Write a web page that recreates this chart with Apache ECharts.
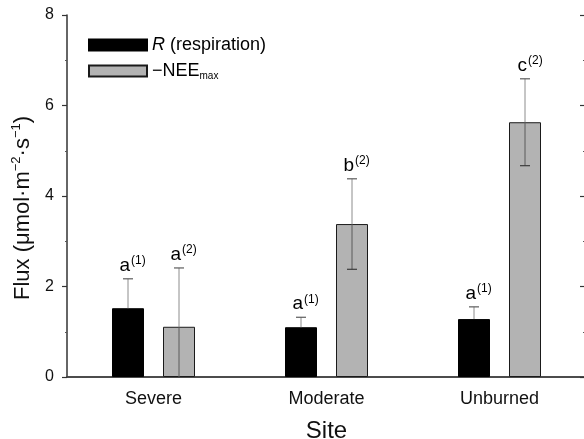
<!DOCTYPE html>
<html>
<head>
<meta charset="utf-8">
<script src="https://cdn.jsdelivr.net/npm/echarts@6/dist/echarts.min.js"></script>
<style>
  html, body { margin: 0; padding: 0; background: #fff; }
  #chart { width: 584px; height: 439px; }
</style>
</head>
<body>
<div id="chart"></div>
<script>
// Site categories
const sites = ['Severe', 'Moderate', 'Unburned'];

// Ecosystem respiration R and its standard error (µmol·m⁻²·s⁻¹)
const respiration = [1.52, 1.10, 1.28];
const respirationErr = [0.65, 0.22, 0.27];

// Maximum net ecosystem exchange (sign reversed) and its standard error
const neeMax = [1.11, 3.38, 5.63];
const neeMaxErr = [1.30, 1.00, 0.96];

// Significance letters and their comparison group
const respirationLetters = ['a', 'a', 'a'];
const neeMaxLetters = ['a', 'b', 'c'];
const respirationGroup = '(1)';
const neeMaxGroup = '(2)';

// Value axis range
const yMin = 0, yMax = 8, yStep = 2;

const FONT = '"Liberation Sans", Arial, Helvetica, sans-serif';
const BAR_W = 32;
const BAR_GAP = 19;

function errorBarSeries(name, means, errs, letters, group, side, drawLower) {
  const rows = means.map((m, i) => [i, m, errs[i]]);
  return {
    type: 'custom',
    name: name + ' error',
    z: 5,
    silent: true,
    data: rows,
    renderItem: function (params, api) {
      const idx = api.value(0);
      const mean = api.value(1);
      const err = api.value(2);
      const dx = side * (BAR_W + BAR_GAP) / 2;
      const top = api.coord([idx, mean + err]);
      const mid = api.coord([idx, mean]);
      const lowVal = Math.max(mean - err, yMin);
      const low = api.coord([idx, lowVal]);
      const x = top[0] + dx;
      const capHalf = 5;
      const children = [];
      children.push({
        type: 'line',
        shape: { x1: x, y1: top[1], x2: x, y2: mid[1] },
        style: { stroke: '#8c8c8c', lineWidth: 1 }
      });
      children.push({
        type: 'line',
        shape: { x1: x - capHalf, y1: top[1], x2: x + capHalf, y2: top[1] },
        style: { stroke: '#5c5c5c', lineWidth: 1.2 }
      });
      if (drawLower) {
        children.push({
          type: 'line',
          shape: { x1: x, y1: mid[1], x2: x, y2: low[1] },
          style: { stroke: '#5a5a5a', lineWidth: 1 }
        });
        if (mean - err > yMin) {
          children.push({
            type: 'line',
            shape: { x1: x - capHalf, y1: low[1], x2: x + capHalf, y2: low[1] },
            style: { stroke: '#3c3c3c', lineWidth: 1.2 }
          });
        }
      }
      // significance letter with superscript group
      const lx = x + 2;
      const baseY = top[1] - 4;
      children.push({
        type: 'text',
        style: {
          text: letters[idx],
          x: lx, y: baseY,
          align: 'right', verticalAlign: 'bottom',
          font: '19px ' + FONT, fill: '#000'
        }
      });
      children.push({
        type: 'text',
        style: {
          text: group,
          x: lx + 1, y: baseY - 8,
          align: 'left', verticalAlign: 'bottom',
          font: '12px ' + FONT, fill: '#000'
        }
      });
      return { type: 'group', children: children };
    }
  };
}

const chart = echarts.init(document.getElementById('chart'), null, { renderer: 'canvas' });

chart.setOption({
  animation: false,
  backgroundColor: '#fff',
  textStyle: { fontFamily: FONT },
  grid: { left: 67, right: -2, top: 15, bottom: 62, containLabel: false, outerBoundsMode: 'none' },
  legend: {
    left: 88,
    top: 36,
    padding: 0,
    orient: 'vertical',
    itemWidth: 58,
    itemHeight: 11,
    itemGap: 8,
    icon: 'rect',
    selectedMode: false,
    data: ['R', 'NEE'],
    formatter: function (name) {
      return name === 'R' ? '{it|R}{t| (respiration)}' : '{t|\u2212NEE}{sub|max}';
    },
    textStyle: {
      fontFamily: FONT,
      color: '#000',
      rich: {
        it: { fontSize: 18, fontStyle: 'italic', fontFamily: FONT, lineHeight: 20 },
        t: { fontSize: 18, fontFamily: FONT, lineHeight: 20 },
        sub: { fontSize: 10, fontFamily: FONT, lineHeight: 8, verticalAlign: 'bottom' }
      }
    }
  },
  xAxis: [
    {
      type: 'category',
      data: sites,
      position: 'bottom',
      axisLine: { lineStyle: { color: '#333', width: 1.5 } },
      axisTick: { alignWithLabel: true, length: 5, lineStyle: { color: '#333', width: 1.5 } },
      axisLabel: { fontSize: 18, color: '#111', margin: 13, fontFamily: FONT },
      name: 'Site',
      nameLocation: 'middle',
      nameGap: 42,
      nameTextStyle: { fontSize: 24, color: '#111', fontFamily: FONT }
    },
    {
      type: 'category',
      data: sites,
      position: 'top',
      axisLine: { lineStyle: { color: '#444', width: 1.5 } },
      axisTick: { show: false },
      axisLabel: { show: false }
    }
  ],
  yAxis: [
    {
      type: 'value',
      min: yMin, max: yMax, interval: yStep,
      position: 'left',
      axisLine: { show: true, lineStyle: { color: '#333', width: 1.5 } },
      axisTick: { show: true, length: 5, lineStyle: { color: '#333', width: 1.2 } },
      minorTick: { show: true, splitNumber: 2, length: 2, lineStyle: { color: '#555' } },
      splitLine: { show: false },
      axisLabel: { fontSize: 16, color: '#111', margin: 13, fontFamily: FONT },
      name: '{n|Flux (\u03bcmol\u00b7m}{p|\u22122}{n|\u00b7s}{p|\u22121}{n|)}',
      nameLocation: 'middle',
      nameGap: 30,
      nameTextStyle: {
        fontFamily: FONT,
        color: '#111',
        padding: [0, 24, 0, 0],
        rich: {
          n: { fontSize: 22, fontFamily: FONT, lineHeight: 26 },
          p: { fontSize: 13, fontFamily: FONT, lineHeight: 14, verticalAlign: 'top' }
        }
      }
    },
    {
      type: 'value',
      min: yMin, max: yMax, interval: yStep,
      position: 'right',
      axisLine: { show: false },
      axisTick: { show: true, inside: true, length: 6, lineStyle: { color: '#333', width: 1.2 } },
      minorTick: { show: true, splitNumber: 2, length: 3, lineStyle: { color: '#555' } },
      splitLine: { show: false },
      axisLabel: { show: false }
    }
  ],
  series: [
    {
      type: 'bar',
      name: 'R',
      data: respiration,
      barWidth: BAR_W,
      barGap: (BAR_GAP / BAR_W * 100) + '%',
      itemStyle: { color: '#000', borderColor: '#000', borderWidth: 1 }
    },
    {
      type: 'bar',
      name: 'NEE',
      data: neeMax,
      barWidth: BAR_W,
      itemStyle: { color: '#b3b3b3', borderColor: '#1a1a1a', borderWidth: 1 }
    },
    errorBarSeries('R', respiration, respirationErr, respirationLetters, respirationGroup, -1, false),
    errorBarSeries('NEE', neeMax, neeMaxErr, neeMaxLetters, neeMaxGroup, 1, true)
  ]
});
</script>
</body>
</html>
